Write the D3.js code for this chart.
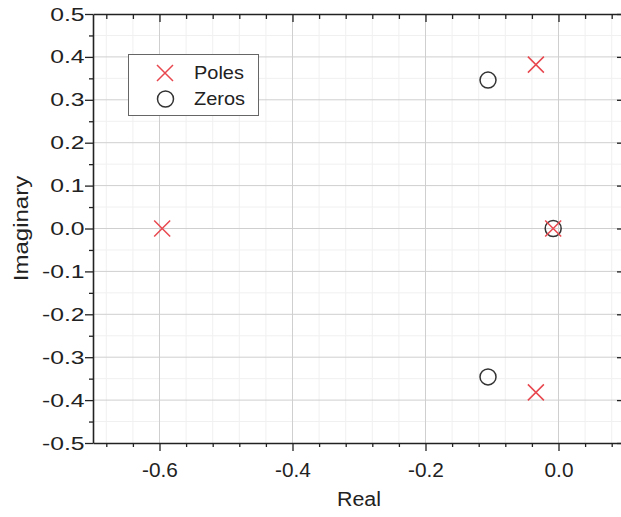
<!DOCTYPE html>
<html>
<head>
<meta charset="utf-8">
<script src="https://cdn.jsdelivr.net/npm/d3@7"></script>
<style>
  html, body { margin: 0; padding: 0; background: #fff; }
  svg { display: block; }
  text { font-family: "Liberation Sans", Arial, sans-serif; fill: #222; }
</style>
</head>
<body>
<svg id="chart" width="621" height="517"></svg>
<script>
// Pole and zero locations in the complex plane
const poleRe = [-0.596, -0.034, -0.034, -0.008];
const poleIm = [0, 0.382, -0.382, 0];
const zeroRe = [-0.106, -0.106, -0.008];
const zeroIm = [0.346, -0.346, 0];

// Axis ticks
const xMajor = [-0.6, -0.4, -0.2, 0.0];
const xMinor = [-0.68, -0.64, -0.56, -0.52, -0.48, -0.44, -0.36, -0.32, -0.28, -0.24, -0.16, -0.12, -0.08, -0.04, 0.04, 0.08];
const yMajor = [-0.5, -0.4, -0.3, -0.2, -0.1, 0.0, 0.1, 0.2, 0.3, 0.4, 0.5];
const yMinor = [-0.45, -0.35, -0.25, -0.15, -0.05, 0.05, 0.15, 0.25, 0.35, 0.45];

const legendItems = ["Poles", "Zeros"];

const svg = d3.select("#chart");
const L = 93, R = 625, T = 14, B = 443;

const x = d3.scaleLinear().domain([-0.7, 0.1]).range([L, R]);
const y = d3.scaleLinear().domain([-0.5, 0.5]).range([B, T]);
const fmt = v => (Math.abs(v) < 1e-9 ? 0 : v).toFixed(1);

const red = "#e8474f";
const ink = "#222";

// Grid: faint minor lines, grey major lines
const grid = svg.append("g");
grid.selectAll(".gxm").data(xMinor).join("line")
  .attr("x1", d => x(d)).attr("x2", d => x(d)).attr("y1", T).attr("y2", B)
  .attr("stroke", "#f0f0f0").attr("stroke-width", 1);
grid.selectAll(".gym").data(yMinor).join("line")
  .attr("y1", d => y(d)).attr("y2", d => y(d)).attr("x1", L).attr("x2", R)
  .attr("stroke", "#f0f0f0").attr("stroke-width", 1);
grid.selectAll(".gx").data(xMajor).join("line")
  .attr("x1", d => x(d)).attr("x2", d => x(d)).attr("y1", T).attr("y2", B)
  .attr("stroke", "#cfcfcf").attr("stroke-width", 1);
grid.selectAll(".gy").data(yMajor.slice(1, -1)).join("line")
  .attr("y1", d => y(d)).attr("y2", d => y(d)).attr("x1", L).attr("x2", R)
  .attr("stroke", "#cfcfcf").attr("stroke-width", 1);

// Axes: bottom/left ticks point out, top/right mirrored ticks point in
function styleAxis(g, fs) {
  g.select(".domain").attr("stroke", ink).attr("stroke-width", 1.6);
  g.selectAll(".tick line").attr("stroke", ink).attr("stroke-width", 1.3);
  g.selectAll(".tick text").attr("fill", ink).style("font-size", fs + "px")
    .style("font-family", "'Liberation Sans', Arial, sans-serif");
}
function minorTicks(g) {
  g.select(".domain").remove();
  g.selectAll(".tick line").attr("stroke", ink).attr("stroke-width", 1.3);
}

const axBottom = svg.append("g").attr("transform", `translate(0,${B})`)
  .call(d3.axisBottom(x).tickValues(xMajor).tickFormat(fmt).tickSize(8).tickSizeOuter(0).tickPadding(12));
styleAxis(axBottom, 20);
axBottom.selectAll(".tick text")
  .attr("transform", "translate(0,0) scale(1.04,1)");
svg.append("g").attr("transform", `translate(0,${B})`)
  .call(d3.axisBottom(x).tickValues(xMinor).tickFormat("").tickSize(4).tickSizeOuter(0))
  .call(minorTicks);

const axLeft = svg.append("g").attr("transform", `translate(${L},0)`)
  .call(d3.axisLeft(y).tickValues(yMajor).tickFormat(fmt).tickSize(8).tickSizeOuter(0));
styleAxis(axLeft, 19);
axLeft.selectAll(".tick text").attr("x", 0)
  .attr("transform", "translate(-8.5,0) scale(1.3,1)");
svg.append("g").attr("transform", `translate(${L},0)`)
  .call(d3.axisLeft(y).tickValues(yMinor).tickFormat("").tickSize(4).tickSizeOuter(0))
  .call(minorTicks);

const axTop = svg.append("g").attr("transform", `translate(0,${T})`)
  .call(d3.axisBottom(x).tickValues(xMajor).tickFormat("").tickSize(8).tickSizeOuter(0));
styleAxis(axTop, 19);
svg.append("g").attr("transform", `translate(0,${T})`)
  .call(d3.axisBottom(x).tickValues(xMinor).tickFormat("").tickSize(5).tickSizeOuter(0))
  .call(minorTicks);

const axRight = svg.append("g").attr("transform", `translate(${R},0)`)
  .call(d3.axisLeft(y).tickValues(yMajor).tickFormat("").tickSize(8).tickSizeOuter(0));
styleAxis(axRight, 19);
svg.append("g").attr("transform", `translate(${R},0)`)
  .call(d3.axisLeft(y).tickValues(yMinor).tickFormat("").tickSize(4).tickSizeOuter(0))
  .call(minorTicks);

// Axis titles
svg.append("text").attr("transform", "translate(359,506) scale(1.07,1)")
  .attr("text-anchor", "middle").style("font-size", "20px").text("Real");
svg.append("text").attr("transform", `translate(28,${y(0)}) rotate(-90) scale(1.2,1)`)
  .attr("text-anchor", "middle").style("font-size", "20px").text("Imaginary");

// Markers
const cross = (g, cx, cy, h) => {
  g.append("path")
    .attr("d", `M${cx - h},${cy - h}L${cx + h},${cy + h}M${cx - h},${cy + h}L${cx + h},${cy - h}`)
    .attr("stroke", red).attr("stroke-width", 1.5).attr("fill", "none");
};

const marks = svg.append("g");
zeroRe.forEach((re, i) => {
  marks.append("circle").attr("cx", x(re)).attr("cy", y(zeroIm[i])).attr("r", 8)
    .attr("fill", "none").attr("stroke", "#333").attr("stroke-width", 1.5);
});
poleRe.forEach((re, i) => cross(marks, x(re), y(poleIm[i]), 8));

// Legend
const lg = svg.append("g");
lg.append("rect").attr("x", 128.5).attr("y", 54.5).attr("width", 130).attr("height", 61)
  .attr("fill", "#fff").attr("stroke", "#666").attr("stroke-width", 1);
cross(lg, 165, 73, 8);
lg.append("circle").attr("cx", 165.5).attr("cy", 99).attr("r", 8)
  .attr("fill", "none").attr("stroke", "#333").attr("stroke-width", 1.5);
lg.selectAll(".lt").data(legendItems).join("text")
  .attr("transform", (d, i) => `translate(194,${79 + i * 26}) scale(1.05,1)`)
  .style("font-size", "19px").text(d => d);
</script>
</body>
</html>
